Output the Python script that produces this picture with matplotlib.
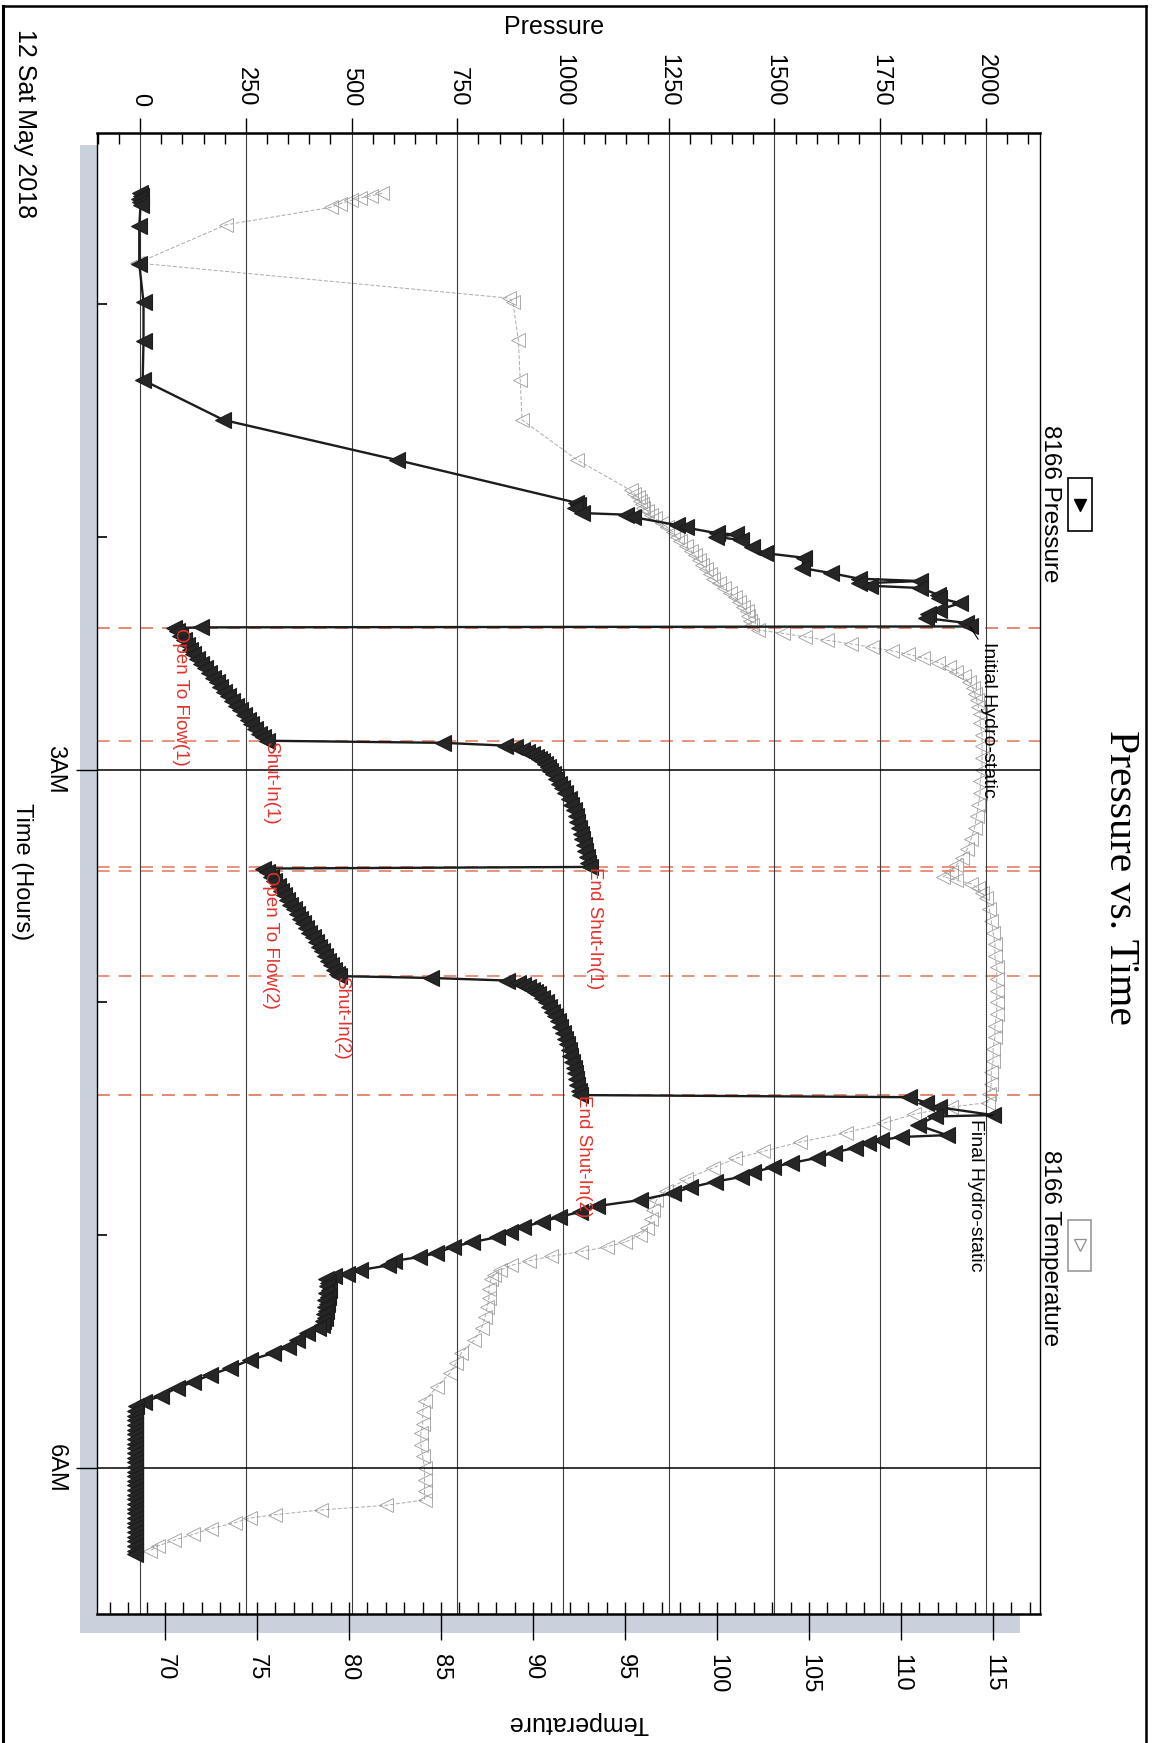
import matplotlib
matplotlib.use("Agg")
import matplotlib.pyplot as plt
from matplotlib.patches import Rectangle
from matplotlib.lines import Line2D
from matplotlib.ticker import FixedLocator, MultipleLocator

plt.rcParams['font.family'] = ['Liberation Sans', 'DejaVu Sans']

# ---------------- axis ticks / labels ----------------
pressure_ticks = [0, 250, 500, 750, 1000, 1250, 1500, 1750, 2000]
temperature_ticks = [70, 75, 80, 85, 90, 95, 100, 105, 110, 115]
time_ticks = [3, 6]
time_tick_labels = ['3AM', '6AM']
hour_marks = [1, 2, 3, 4, 5, 6]

# ---------------- 8166 Pressure (psi) vs time (hours after midnight) ----------------
p_surface_time = [0.525, 0.535, 0.548, 0.560, 0.575, 0.664, 0.828, 0.993, 1.158, 1.326]
p_surface_psi = [0, 2, -2, 0, 1, -2, -2, 8, 8, 6]

p_runin_time = [1.498, 1.670, 1.853, 1.865, 1.878, 1.898, 1.905, 1.915, 1.950, 1.960,
                1.985, 1.990, 2.000, 2.014, 2.044, 2.070, 2.090, 2.134, 2.156, 2.180,
                2.190, 2.200, 2.210, 2.220, 2.248, 2.263, 2.285, 2.314, 2.330, 2.349,
                2.370, 2.385]
p_runin_psi = [197, 607, 1030, 1036, 1028, 1045, 1150, 1165, 1270, 1290,
               1365, 1410, 1362, 1420, 1447, 1477, 1570, 1565, 1634, 1700,
               1845, 1700, 1725, 1845, 1886, 1889, 1939, 1889, 1862, 1858,
               1953, 1962]

p_flow1_time = [2.389, 2.392, 2.405, 2.425, 2.445, 2.465, 2.485, 2.505, 2.525, 2.545,
                2.565, 2.585, 2.605, 2.625, 2.645, 2.665, 2.685, 2.705, 2.725, 2.745,
                2.765, 2.785, 2.805, 2.825, 2.845, 2.862, 2.876]
p_flow1_psi = [145, 80, 88, 95, 103, 110, 117, 126, 135, 144,
               153, 162, 172, 181, 190, 199, 208, 217, 227, 236,
               245, 254, 263, 272, 281, 290, 300]

p_buildup1_time = [2.885, 2.897, 2.905, 2.915, 2.925, 2.935, 2.945, 2.955, 2.965, 2.975,
                   2.990, 3.005, 3.020, 3.040, 3.060, 3.080, 3.100, 3.125, 3.150, 3.175,
                   3.200, 3.225, 3.250, 3.275, 3.300, 3.325, 3.350, 3.375, 3.400, 3.418]
p_buildup1_psi = [717, 864, 887, 903, 916, 927, 936, 944, 951, 957,
                  964, 970, 976, 984, 991, 998, 1005, 1013, 1019, 1025,
                  1030, 1034, 1038, 1042, 1045, 1049, 1053, 1056, 1060, 1063]

p_flow2_time = [3.425, 3.440, 3.460, 3.480, 3.500, 3.520, 3.540, 3.560, 3.580, 3.600,
                3.620, 3.640, 3.660, 3.680, 3.700, 3.720, 3.740, 3.760, 3.780, 3.800,
                3.820, 3.840, 3.860, 3.878, 3.887]
p_flow2_psi = [291, 301, 309, 317, 325, 333, 340, 348, 355, 363,
               370, 378, 385, 393, 400, 408, 415, 423, 430, 437,
               444, 451, 458, 465, 471]

p_buildup2_time = [3.895, 3.906, 3.915, 3.925, 3.935, 3.945, 3.955, 3.965, 3.980, 4.000,
                   4.020, 4.040, 4.060, 4.080, 4.105, 4.130, 4.155, 4.180, 4.205, 4.230,
                   4.255, 4.280, 4.305, 4.330, 4.355, 4.380, 4.398]
p_buildup2_psi = [688, 868, 893, 906, 917, 926, 934, 941, 950, 960,
                  968, 975, 981, 987, 993, 999, 1004, 1009, 1013, 1017,
                  1021, 1025, 1028, 1031, 1034, 1037, 1040]

p_pullout_time = [4.407, 4.430, 4.450, 4.484, 4.490, 4.527, 4.570, 4.578, 4.591, 4.604,
                  4.625, 4.645, 4.668, 4.690, 4.707, 4.730, 4.750, 4.770, 4.795, 4.819,
                  4.849, 4.875, 4.900, 4.922, 4.943, 4.965, 4.986, 5.008, 5.030, 5.050,
                  5.077, 5.094, 5.110, 5.130, 5.150, 5.165, 5.176, 5.190, 5.205, 5.220,
                  5.235, 5.250, 5.265, 5.280, 5.295, 5.310, 5.325, 5.340, 5.355, 5.370,
                  5.385, 5.400, 5.420, 5.450, 5.480, 5.506, 5.536, 5.570, 5.600, 5.630,
                  5.656, 5.690, 5.715]
p_pullout_psi = [1818, 1858, 1888, 2017, 1880, 1839, 1908, 1800, 1752, 1721,
                 1690, 1640, 1600, 1540, 1497, 1450, 1420, 1360, 1300, 1260,
                 1182, 1080, 1040, 990, 950, 905, 875, 845, 785, 740,
                 700, 660, 600, 585, 520, 490, 459, 440, 445, 442,
                 446, 440, 444, 438, 442, 436, 440, 434, 437, 432,
                 430, 420, 394, 372, 350, 315, 260, 213, 166, 126,
                 87, 50, 10]

p_final_time = [5.735, 5.755, 5.775, 5.795, 5.815, 5.835, 5.855, 5.875, 5.895, 5.915,
                5.935, 5.955, 5.975, 5.995, 6.015, 6.035, 6.055, 6.075, 6.095, 6.115,
                6.135, 6.155, 6.175, 6.195, 6.215, 6.235, 6.255, 6.275, 6.295, 6.315,
                6.335, 6.355, 6.368]
p_final_psi = [-10, -12, -11, -12, -13, -12, -11, -12, -12, -13,
               -12, -11, -12, -12, -13, -12, -12, -11, -12, -12,
               -13, -12, -12, -11, -12, -12, -13, -12, -12, -11,
               -12, -12, -12]

# ---------------- 8166 Temperature (deg F) vs time (hours) ----------------
temp_early_time = [0.525, 0.535, 0.545, 0.555, 0.570, 0.585, 0.660, 0.824, 0.975, 0.992,
                   1.155, 1.327, 1.498, 1.670]
temp_early_degF = [81.8, 81.2, 80.6, 80.1, 79.5, 79.0, 73.3, 68.5, 88.7, 88.9,
                   89.2, 89.3, 89.4, 92.4]

temp_test_time = [1.800, 1.815, 1.830, 1.845, 1.860, 1.875, 1.890, 1.905, 1.920, 1.940,
                  1.960, 1.980, 2.000, 2.020, 2.040, 2.060, 2.080, 2.100, 2.120, 2.140,
                  2.160, 2.180, 2.200, 2.220, 2.240, 2.260, 2.280, 2.300, 2.320, 2.340,
                  2.360, 2.380, 2.400, 2.415, 2.430, 2.445, 2.460, 2.475, 2.490, 2.505,
                  2.520, 2.540, 2.560, 2.580, 2.600, 2.625, 2.650, 2.675, 2.700, 2.730,
                  2.760, 2.800, 2.850, 2.900, 2.950, 3.000, 3.050, 3.100, 3.150, 3.200,
                  3.250, 3.300, 3.340, 3.380, 3.410, 3.440, 3.460, 3.475, 3.490, 3.510,
                  3.530, 3.550, 3.600, 3.650, 3.700, 3.750, 3.800, 3.850, 3.900, 3.950,
                  4.000, 4.050, 4.100, 4.150, 4.200, 4.250, 4.300, 4.350, 4.395, 4.430]
temp_test_degF = [95.3, 95.5, 95.7, 95.8, 95.9, 96.0, 96.2, 96.4, 96.6, 97.0,
                  97.3, 97.6, 97.8, 98.0, 98.3, 98.6, 98.8, 99.0, 99.2, 99.4,
                  99.6, 99.8, 100.1, 100.4, 100.7, 101.0, 101.2, 101.4, 101.6, 101.7,
                  101.8, 101.9, 102.2, 103.6, 104.8, 106.0, 107.3, 108.4, 109.5, 110.4,
                  111.2, 112.0, 112.6, 113.0, 113.4, 113.7, 113.9, 114.0, 114.1, 114.2,
                  114.3, 114.3, 114.4, 114.4, 114.4, 114.4, 114.3, 114.3, 114.2, 114.1,
                  114.0, 113.8, 113.6, 113.3, 113.0, 112.7, 112.3, 113.0, 113.8, 114.2,
                  114.4, 114.6, 114.8, 114.9, 115.0, 115.1, 115.1, 115.2, 115.2, 115.2,
                  115.2, 115.2, 115.1, 115.1, 115.0, 115.0, 114.9, 114.9, 114.8, 114.7]

temp_pull_time = [4.450, 4.480, 4.520, 4.560, 4.600, 4.640, 4.670, 4.710, 4.760, 4.810,
                  4.850, 4.890, 4.930, 4.970, 5.000, 5.030, 5.050, 5.070, 5.090, 5.110,
                  5.130, 5.150, 5.170, 5.190, 5.230, 5.270, 5.310, 5.350, 5.400, 5.450,
                  5.506, 5.550, 5.590, 5.650, 5.710, 5.760, 5.810, 5.850, 5.900, 5.950,
                  6.000, 6.050, 6.100, 6.137, 6.160, 6.180, 6.200, 6.215, 6.235, 6.260,
                  6.285, 6.310, 6.335, 6.355]
temp_pull_degF = [112.7, 110.7, 109.0, 107.0, 104.5, 102.5, 101.0, 99.8, 98.3, 97.2,
                  96.7, 96.5, 96.4, 96.2, 95.8, 95.0, 94.0, 92.6, 91.0, 89.8,
                  88.8, 88.2, 87.9, 87.7, 87.6, 87.6, 87.5, 87.4, 87.2, 86.8,
                  86.1, 85.8, 85.5, 84.8, 84.1, 84.0, 84.0, 83.9, 83.9, 84.0,
                  84.1, 84.1, 84.1, 84.1, 82.0, 78.5, 76.0, 74.6, 73.8, 72.5,
                  71.5, 70.5, 69.6, 69.2]

# ---------------- events ----------------
event_labels = ['Open To Flow(1)', 'Shut-In(1)', 'End Shut-In(1)',
                'Open To Flow(2)', 'Shut-In(2)', 'End Shut-In(2)']
event_times = [2.392, 2.877, 3.418, 3.436, 3.887, 4.398]
event_label_psi = [76, 288, 1054, 288, 457, 1028]

hydro_labels = ['Initial Hydro-static', 'Final Hydro-static']
hydro_times = [2.392, 4.398]
hydro_point_psi = [1962, 2017]
hydro_point_time = [2.385, 4.484]
hydro_label_psi = [1986, 1955]
hydro_label_time = [2.452, 4.500]

pressure_time = (p_surface_time + p_runin_time + p_flow1_time + p_buildup1_time +
                 p_flow2_time + p_buildup2_time + p_pullout_time + p_final_time)
pressure_psi = (p_surface_psi + p_runin_psi + p_flow1_psi + p_buildup1_psi +
                p_flow2_psi + p_buildup2_psi + p_pullout_psi + p_final_psi)
temp_time = temp_early_time + temp_test_time + temp_pull_time
temp_degF = temp_early_degF + temp_test_degF + temp_pull_degF

# ---------------- figure ----------------
W, H, DPI = 1155, 1743, 100
fig = plt.figure(figsize=(W / DPI, H / DPI), dpi=DPI)
fig.patch.set_facecolor('white')


def fx(px):
    return px / W


def fy(py):
    return 1 - py / H


AX_L, AX_R, AX_T, AX_B = 97, 1040, 133, 1614

# drop shadow behind the plot area
fig.add_artist(Rectangle((fx(80), fy(1633)), fx(1020) - fx(80), fy(145) - fy(1633),
                         transform=fig.transFigure, facecolor='#c9d1dc',
                         edgecolor='none', zorder=-5))

ax = fig.add_axes([fx(AX_L), fy(AX_B), fx(AX_R) - fx(AX_L), fy(AX_T) - fy(AX_B)])
ax2 = ax.twiny()
ax2.set_zorder(0)
ax.set_zorder(1)
ax.patch.set_visible(False)
ax2.patch.set_visible(True)
ax2.patch.set_facecolor('white')

# pressure axis (top)
ax.set_xlim(-102, 2128)
ax.set_ylim(6.627, 0.2655)
ax.xaxis.set_ticks_position('top')
ax.xaxis.set_major_locator(FixedLocator(pressure_ticks))
ax.set_xticklabels([str(v) for v in pressure_ticks])
ax.xaxis.set_minor_locator(MultipleLocator(50))
ax.tick_params(axis='x', which='major', direction='out', length=11, width=1.0,
               pad=8, labelsize=17, labelrotation=-90)
ax.tick_params(axis='x', which='minor', direction='in', length=8, width=1.0)

# time axis (left)
ax.yaxis.set_major_locator(FixedLocator(time_ticks))
ax.set_yticklabels(time_tick_labels)
ax.yaxis.set_minor_locator(FixedLocator(hour_marks))
ax.tick_params(axis='y', which='major', direction='out', length=15, width=1.0,
               pad=7, labelsize=17, labelrotation=-90)
ax.tick_params(axis='y', which='minor', direction='in', length=7, width=1.2)
for lab in ax.get_yticklabels():
    lab.set_va('center')

ax.grid(axis='x', which='major', color='#3c3c3c', lw=0.8)
ax.grid(axis='y', which='major', color='black', lw=1.1)

for side in ['top', 'bottom']:
    ax.spines[side].set_linewidth(1.8)
for side in ['left', 'right']:
    ax.spines[side].set_linewidth(1.0)

# temperature axis (bottom)
ax2.set_xlim(66.3, 117.55)
ax2.xaxis.set_ticks_position('bottom')
ax2.xaxis.set_label_position('bottom')
ax2.xaxis.set_major_locator(FixedLocator(temperature_ticks))
ax2.set_xticklabels([str(v) for v in temperature_ticks])
ax2.xaxis.set_minor_locator(MultipleLocator(1))
ax2.xaxis.remove_overlapping_locs = False
ax2.tick_params(axis='x', which='major', direction='out', length=19, width=1.0,
                pad=10, labelsize=17, labelrotation=-90)
ax2.tick_params(axis='x', which='minor', direction='in', length=8.5, width=1.0)
for s in ax2.spines.values():
    s.set_visible(False)

# event lines
for t in event_times + hydro_times:
    ax.axhline(t, color='#e58a74', lw=1.3, ls=(0, (7, 5)), zorder=1.5)

# temperature series
ax2.plot(temp_degF, temp_time, color='#aaaaaa', lw=0.7, ls=(0, (4, 2)),
         marker='<', ms=10, mfc='none', mec='#9c9c9c', mew=0.6, zorder=2)

# pressure series
ax.plot(pressure_psi, pressure_time, color='#1c1c1c', lw=1.7,
        marker='<', ms=11.5, mfc='#262626', mec='#1c1c1c', mew=0.8, zorder=3)

# event labels
for lab, t, p in zip(event_labels, event_times, event_label_psi):
    ax.text(p, t, lab, rotation=-90, rotation_mode='anchor', ha='left', va='bottom',
            color='#e3322b', fontsize=13.5, zorder=4)

for lab, pt, pp, lt, lp in zip(hydro_labels, hydro_point_time, hydro_point_psi,
                               hydro_label_time, hydro_label_psi):
    ax.annotate(lab, xy=(pp, pt), xytext=(lp, lt), rotation=-90,
                rotation_mode='anchor', ha='left', va='bottom', fontsize=14,
                color='black', zorder=4,
                arrowprops=dict(arrowstyle='-', color='black', lw=0.8,
                                shrinkA=0, shrinkB=0, relpos=(0.0, 1.0)))

# ---------------- texts outside the plot ----------------
fig.text(fx(554), fy(27), 'Pressure', ha='center', va='center', fontsize=18)
fig.text(fx(578), fy(1723), 'Temperature', ha='center', va='center', fontsize=18,
         rotation=180)
fig.text(fx(22), fy(872), 'Time (Hours)', ha='center', va='center', fontsize=17,
         rotation=-90)
fig.text(fx(25), fy(124), '12 Sat May 2018', ha='center', va='center', fontsize=18,
         rotation=-90)
fig.text(fx(1120), fy(878), 'Pressure vs. Time', ha='center', va='center',
         fontsize=30, rotation=-90, family=['Liberation Serif', 'DejaVu Serif'])

# legend entries
fig.text(fx(1050), fy(504), '8166 Pressure', ha='center', va='center', fontsize=17.5,
         rotation=-90)
fig.text(fx(1050), fy(1248), '8166 Temperature', ha='center', va='center', fontsize=17.5,
         rotation=-90)
fig.add_artist(Rectangle((fx(1068), fy(531)), fx(1092) - fx(1068), fy(478) - fy(531),
                         transform=fig.transFigure, facecolor='white',
                         edgecolor='black', lw=1.2, zorder=5))
fig.add_artist(Line2D([fx(1080)], [fy(505)], transform=fig.transFigure, marker='v',
                      ms=8.5, mfc='black', mec='black', ls='none', zorder=6))
fig.add_artist(Rectangle((fx(1068), fy(1271)), fx(1091) - fx(1068), fy(1220) - fy(1271),
                         transform=fig.transFigure, facecolor='white',
                         edgecolor='#9a9a9a', lw=1.2, zorder=5))
fig.add_artist(Line2D([fx(1079.5)], [fy(1245)], transform=fig.transFigure, marker='v',
                      ms=8.5, mfc='none', mec='#8e8e8e', mew=0.9, ls='none', zorder=6))

# outer page frame
fig.add_artist(Line2D([fx(3), fx(3)], [fy(6), 0], transform=fig.transFigure,
                      color='black', lw=2.2))
fig.add_artist(Line2D([fx(3), fx(1146)], [fy(6), fy(6)], transform=fig.transFigure,
                      color='black', lw=1.8))
fig.add_artist(Line2D([fx(1146), fx(1146)], [fy(6), 0], transform=fig.transFigure,
                      color='black', lw=1.8))

fig.savefig('out.png', dpi=DPI)
